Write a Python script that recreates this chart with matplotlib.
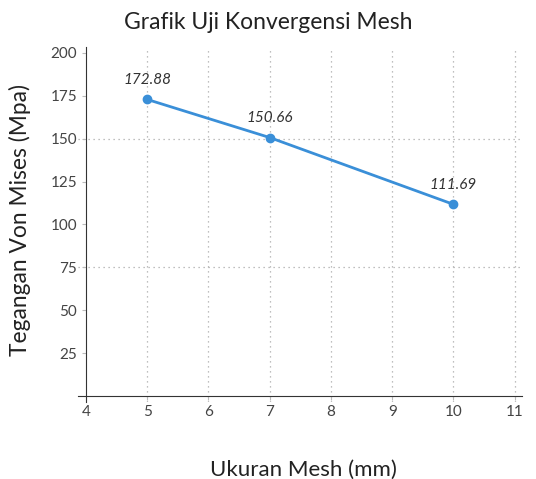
import matplotlib
matplotlib.use('Agg')
import matplotlib.pyplot as plt

# data
mesh_size = [5, 7, 10]
von_mises = [172.88, 150.66, 111.69]
x_ticks = [4, 5, 6, 7, 8, 9, 10, 11]
y_ticks = [25, 50, 75, 100, 125, 150, 175, 200]
h_grid = [75, 150]

plt.rcParams['font.family'] = ['Lato', 'DejaVu Sans']

fig = plt.figure(figsize=(5.36, 4.79), dpi=100)
ax = fig.add_axes([0.1455, 0.161, 0.8285, 0.741])

line_color = '#3a8fd8'
ax.plot(mesh_size, von_mises, color=line_color, linewidth=2, marker='o', markersize=6, zorder=3)

for x, y in zip(mesh_size, von_mises):
    ax.annotate(f'{y:.2f}', (x, y), textcoords='offset points', xytext=(0, 9),
                ha='center', va='bottom', fontsize=11, style='italic', color='#333333')

ax.set_xlim(3.87, 11.12)
ax.set_ylim(-3.5, 203.5)
ax.set_xticks(x_ticks)
ax.set_yticks(y_ticks)

# vertical grid at every x tick, horizontal only at a couple of levels
for xv in x_ticks[1:]:
    ax.axvline(xv, color='#aaaaaa', linestyle=(0, (1, 3)), linewidth=0.9, zorder=1)
for yv in h_grid:
    ax.axhline(yv, color='#aaaaaa', linestyle=(0, (1, 3)), linewidth=0.9, zorder=1)

ax.spines['top'].set_visible(False)
ax.spines['right'].set_visible(False)
ax.spines['left'].set_position(('data', 4))
ax.spines['bottom'].set_position(('data', 0))
ax.spines['left'].set_color('#333333')
ax.spines['bottom'].set_color('#333333')

ax.tick_params(axis='both', labelsize=11, labelcolor='#444444', color='#bbbbbb', length=3)

fig.text(0.5, 0.952, 'Grafik Uji Konvergensi Mesh', ha='center', va='center',
         fontsize=16.5, color='#222222')
fig.text(0.567, 0.019, 'Ukuran Mesh (mm)', ha='center', va='center', fontsize=16, color='#222222')
fig.text(0.037, 0.54, 'Tegangan Von Mises (Mpa)', ha='center', va='center', rotation=90,
         fontsize=16.4, color='#222222')

fig.savefig('out.png', dpi=100)
